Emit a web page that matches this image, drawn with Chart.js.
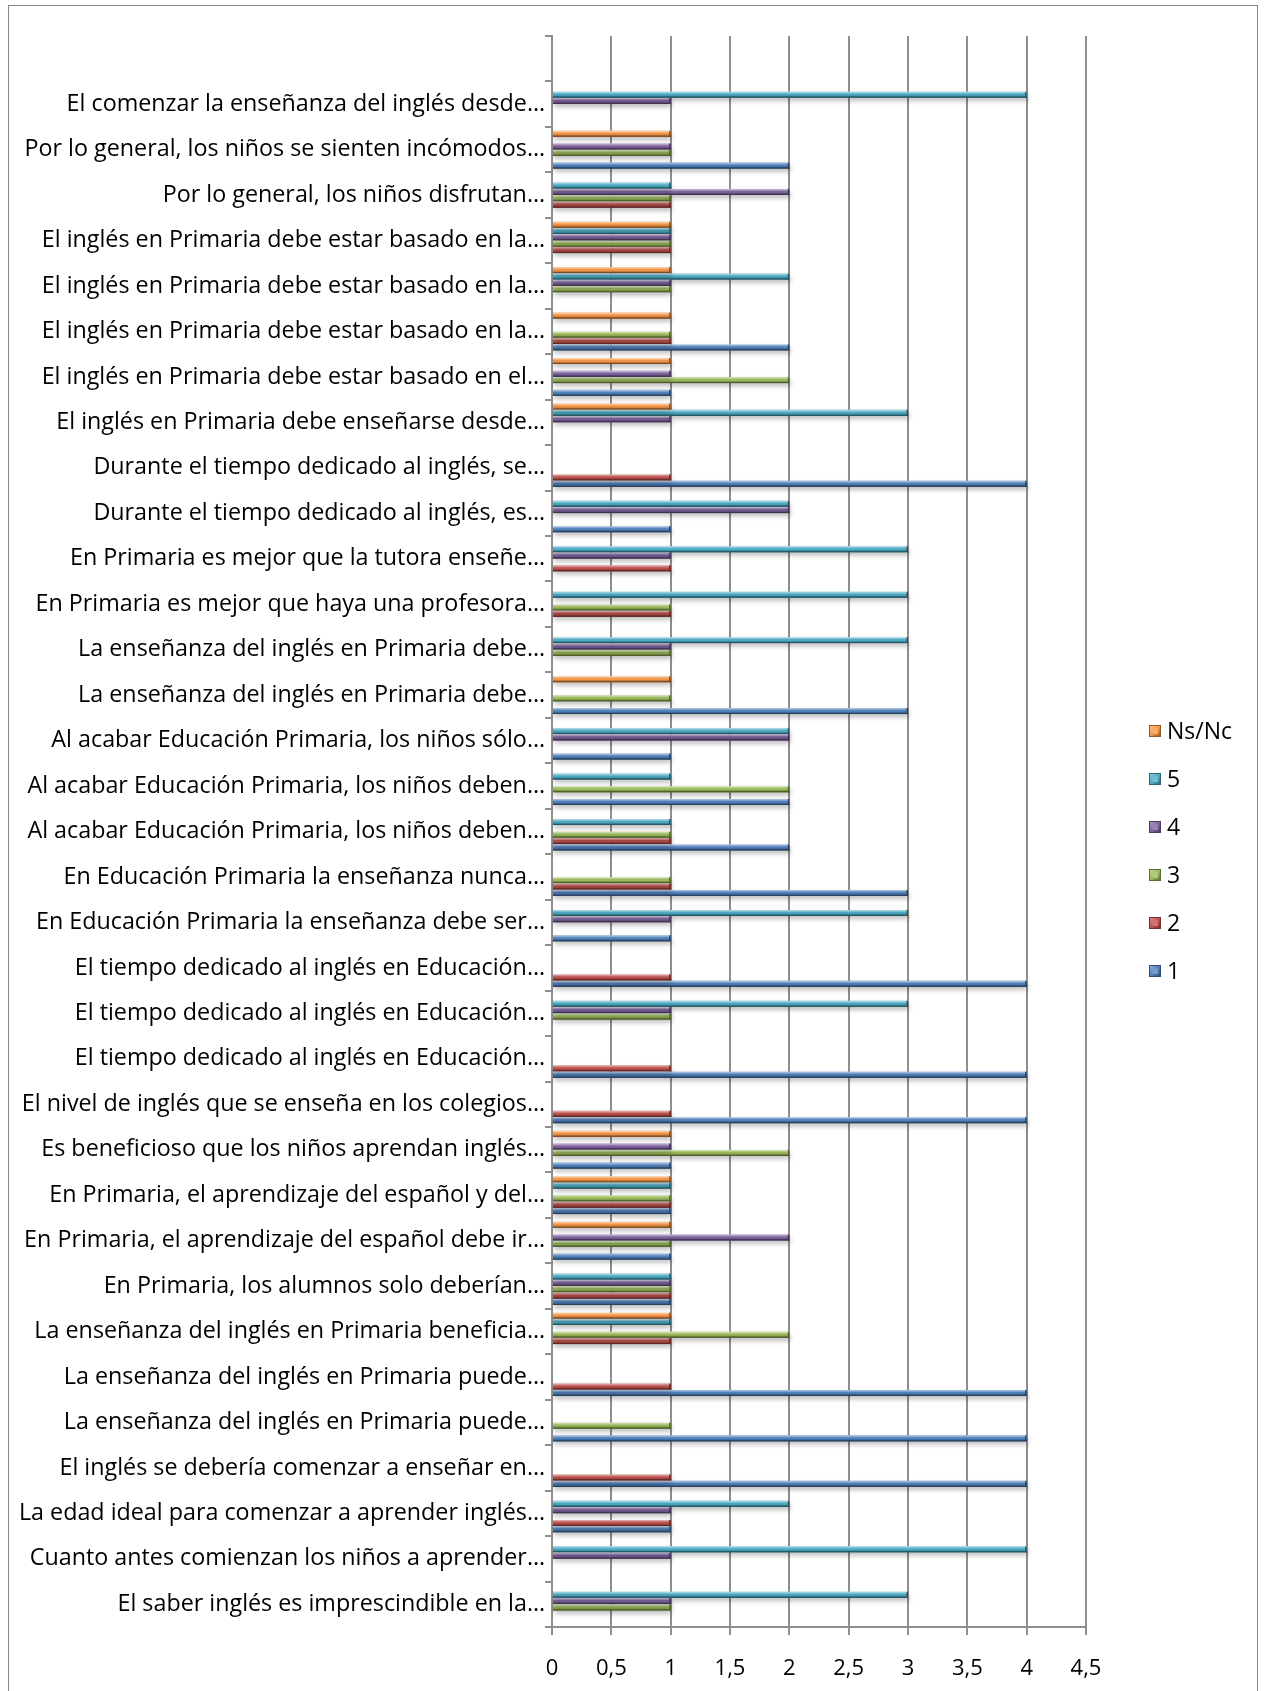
<!DOCTYPE html>
<html>
<head>
<meta charset="utf-8">
<script src="https://cdn.jsdelivr.net/npm/chart.js@4.4.1/dist/chart.umd.min.js"></script>
<style>
  html, body { margin: 0; padding: 0; background: #ffffff; }
  #frame {
    position: absolute; left: 8px; top: 5px;
    width: 1250px; height: 1690px;
    box-sizing: border-box; border: 1px solid #878787; background: #ffffff;
  }
  #wrap { position: absolute; left: 0; top: 0; width: 1248px; height: 1688px; }
</style>
</head>
<body>
<div id="frame"><div id="wrap"><canvas id="chart"></canvas></div></div>
<script>
// Survey statements (top to bottom); the first row is an empty category.
const categories = [
  '',
  'El comenzar la enseñanza del inglés desde…',
  'Por lo general, los niños se sienten incómodos…',
  'Por lo general, los niños disfrutan…',
  'El inglés en Primaria debe estar basado en la…',
  'El inglés en Primaria debe estar basado en la…',
  'El inglés en Primaria debe estar basado en la…',
  'El inglés en Primaria debe estar basado en el…',
  'El inglés en Primaria debe enseñarse desde…',
  'Durante el tiempo dedicado al inglés, se…',
  'Durante el tiempo dedicado al inglés, es…',
  'En Primaria es mejor que la tutora enseñe…',
  'En Primaria es mejor que haya una profesora…',
  'La enseñanza del inglés en Primaria debe…',
  'La enseñanza del inglés en Primaria debe…',
  'Al acabar Educación Primaria, los niños sólo…',
  'Al acabar Educación Primaria, los niños deben…',
  'Al acabar Educación Primaria, los niños deben…',
  'En Educación Primaria la enseñanza nunca…',
  'En Educación Primaria la enseñanza debe ser…',
  'El tiempo dedicado al inglés en Educación…',
  'El tiempo dedicado al inglés en Educación…',
  'El tiempo dedicado al inglés en Educación…',
  'El nivel de inglés que se enseña en los colegios…',
  'Es beneficioso que los niños aprendan inglés…',
  'En Primaria, el aprendizaje del español y del…',
  'En Primaria, el aprendizaje del español debe ir…',
  'En Primaria, los alumnos solo deberían…',
  'La enseñanza del inglés en Primaria beneficia…',
  'La enseñanza del inglés en Primaria puede…',
  'La enseñanza del inglés en Primaria puede…',
  'El inglés se debería comenzar a enseñar en…',
  'La edad ideal para comenzar a aprender inglés…',
  'Cuanto antes comienzan los niños a aprender…',
  'El saber inglés es imprescindible en la…'
];

// Number of answers per statement for each response option
const answersNsNc = [null, 0,1,0,1,1,1,1,1,0,0,0,0,0,1,0,0,0,0,0,0,0,0,0,1,1,1,0,1,0,0,0,0,0,0];
const answers5    = [null, 4,0,1,1,2,0,0,3,0,2,3,3,3,0,2,1,1,0,3,0,3,0,0,0,1,0,1,1,0,0,0,2,4,3];
const answers4    = [null, 1,1,2,1,1,0,1,1,0,2,1,0,1,0,2,0,0,0,1,0,1,0,0,1,0,2,1,0,0,0,0,1,1,1];
const answers3    = [null, 0,1,1,1,1,1,2,0,0,0,0,1,1,1,0,2,1,1,0,0,1,0,0,2,1,1,1,2,0,1,0,0,0,1];
const answers2    = [null, 0,0,1,1,0,1,0,0,1,0,1,1,0,0,0,0,1,1,0,1,0,1,1,0,1,0,1,1,1,0,1,1,0,0];
const answers1    = [null, 0,2,0,0,0,2,1,0,4,1,0,0,0,3,1,2,2,3,1,4,0,4,4,1,1,1,1,0,4,4,4,1,0,0];

const seriesNames  = ['Ns/Nc', '5', '4', '3', '2', '1'];
const seriesValues = [answersNsNc, answers5, answers4, answers3, answers2, answers1];
const seriesColors = ['#F79646', '#4BACC6', '#8064A2', '#9BBB59', '#C0504D', '#4F81BD'];

const xTickLabels = ['0', '0,5', '1', '1,5', '2', '2,5', '3', '3,5', '4', '4,5'];

const FONT = '"Open Sans", Lato, sans-serif';
const GRID = '#8e8e8e';

function shade(hex, f) {
  const n = parseInt(hex.slice(1), 16);
  let r = (n >> 16) & 255, g = (n >> 8) & 255, b = n & 255;
  if (f < 0) { r *= 1 + f; g *= 1 + f; b *= 1 + f; }
  else { r += (255 - r) * f; g += (255 - g) * f; b += (255 - b) * f; }
  return 'rgb(' + Math.round(r) + ',' + Math.round(g) + ',' + Math.round(b) + ')';
}

// Soft drop shadow under the bars, then a bevel highlight on top of each bar
const bevelBars = {
  id: 'bevelBars',
  beforeDatasetsDraw(chart) {
    const ctx = chart.ctx;
    ctx.save();
    ctx.shadowColor = 'rgba(0,0,0,0.28)';
    ctx.shadowBlur = 5;
    ctx.shadowOffsetX = 1;
    ctx.shadowOffsetY = 3;
  },
  afterDatasetsDraw(chart) {
    const ctx = chart.ctx;
    ctx.restore();
    chart.data.datasets.forEach((ds, di) => {
      const meta = chart.getDatasetMeta(di);
      meta.data.forEach((el, i) => {
        if (!ds.data[i]) return;
        const p = el.getProps(['x', 'y', 'base', 'height'], true);
        const x0 = Math.min(p.base, p.x), x1 = Math.max(p.base, p.x);
        const y0 = p.y - p.height / 2, y1 = p.y + p.height / 2;
        const g = ctx.createLinearGradient(0, y0, 0, y1);
        g.addColorStop(0, 'rgba(255,255,255,0.6)');
        g.addColorStop(0.3, 'rgba(255,255,255,0.2)');
        g.addColorStop(0.55, 'rgba(0,0,0,0)');
        g.addColorStop(1, 'rgba(0,0,0,0.5)');
        ctx.fillStyle = g;
        ctx.fillRect(x0, y0, x1 - x0, y1 - y0);
        ctx.fillStyle = shade(ds.backgroundColor, -0.5);
        ctx.fillRect(x1 - 1.5, y0, 1.5, y1 - y0);
        ctx.fillRect(x0, y1 - 1, x1 - x0, 1);
      });
    });
  }
};

// Legend column to the right of the plot
const sideLegend = {
  id: 'sideLegend',
  afterDraw(chart) {
    const ctx = chart.ctx;
    const area = chart.chartArea;
    const step = 48;
    const n = chart.data.datasets.length;
    const y0 = chart.height / 2 - step * (n - 1) / 2 + 1;
    const bx = area.right + 63;
    ctx.save();
    ctx.font = '23px ' + FONT;
    ctx.textBaseline = 'middle';
    ctx.textAlign = 'left';
    chart.data.datasets.forEach((ds, i) => {
      const cy = y0 + i * step;
      const c = ds.backgroundColor;
      const g = ctx.createLinearGradient(bx, cy - 6, bx + 12, cy + 6);
      g.addColorStop(0, shade(c, 0.45));
      g.addColorStop(0.5, c);
      g.addColorStop(1, shade(c, -0.45));
      ctx.fillStyle = g;
      ctx.fillRect(bx, cy - 6, 12, 12);
      ctx.strokeStyle = shade(c, -0.4);
      ctx.lineWidth = 1;
      ctx.strokeRect(bx + 0.5, cy - 5.5, 11, 11);
      ctx.fillStyle = shade(c, 0.2);
      ctx.fillRect(bx + 3, cy - 3, 6, 6);
      ctx.fillStyle = '#000000';
      ctx.fillText(ds.label, bx + 18, cy + 1);
    });
    ctx.restore();
  }
};

Chart.defaults.font.family = FONT;
Chart.defaults.font.size = 23;
Chart.defaults.color = '#000000';

new Chart(document.getElementById('chart'), {
  type: 'bar',
  data: {
    labels: categories,
    datasets: seriesNames.map((name, i) => ({
      label: name,
      data: seriesValues[i],
      backgroundColor: seriesColors[i],
      borderWidth: 0,
      barPercentage: 0.94,
      categoryPercentage: 0.84
    }))
  },
  options: {
    indexAxis: 'y',
    responsive: true,
    maintainAspectRatio: false,
    animation: false,
    layout: { padding: { top: 30, right: 171, bottom: 0, left: 0 } },
    plugins: {
      legend: { display: false },
      tooltip: { enabled: false }
    },
    scales: {
      x: {
        min: 0, max: 4.5,
        ticks: {
          stepSize: 0.5,
          padding: 21,
          font: { size: 22 },
          callback: (v, idx) => xTickLabels[idx]
        },
        grid: { color: GRID, lineWidth: 2, tickLength: 8, drawTicks: true },
        border: { color: GRID, width: 2 },
        afterFit(scale) { scale.height = 67; }
      },
      y: {
        ticks: { padding: 0, font: { size: 23.3 }, autoSkip: false },
        grid: { offset: true, drawOnChartArea: false, color: GRID, lineWidth: 2, tickLength: 7 },
        border: { color: GRID, width: 2 },
        afterFit(scale) { scale.width = 543; }
      }
    }
  },
  plugins: [bevelBars, sideLegend]
});
</script>
</body>
</html>
